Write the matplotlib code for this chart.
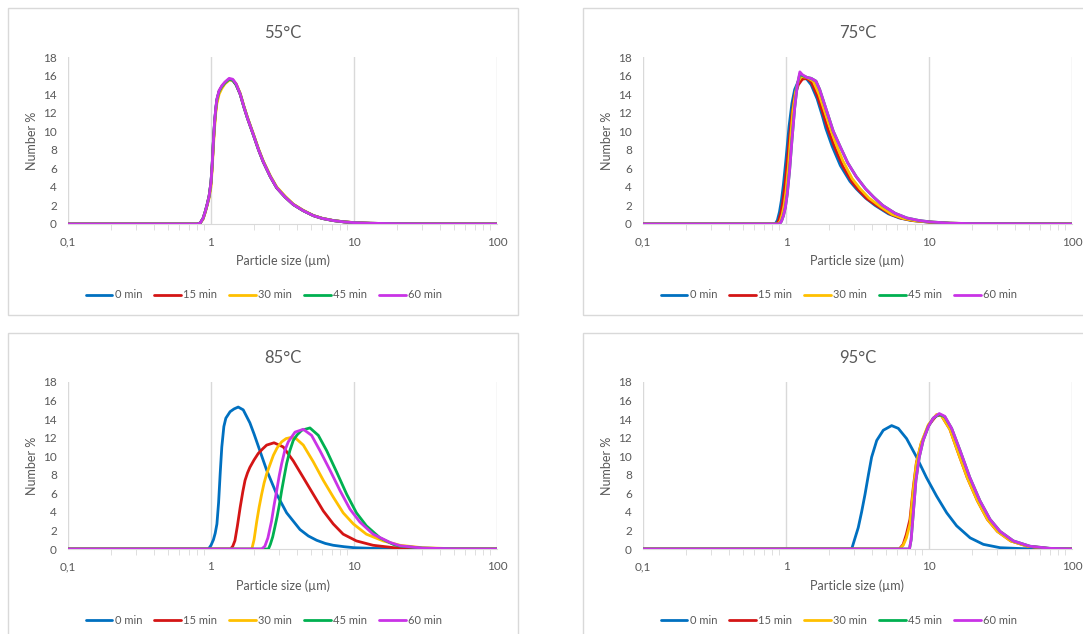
import matplotlib
matplotlib.use("Agg")
import matplotlib.pyplot as plt
from matplotlib.patches import Rectangle

plt.rcParams["font.family"] = ["Lato", "DejaVu Sans"]

SERIES = ["0 min", "15 min", "30 min", "45 min", "60 min"]
COLORS = ["#0070C0", "#D41515", "#FFC000", "#00B050", "#C933E6"]
TITLES = ["55°C", "75°C", "85°C", "95°C"]
X_TICKS = [0.1, 1, 10, 100]
X_TICK_LABELS = ["0,1", "1", "10", "100"]
Y_TICKS = [0, 2, 4, 6, 8, 10, 12, 14, 16, 18]

# 55 °C - all five runs practically on top of each other
x55 = [0.1, 0.8, 0.84, 0.88, 0.91, 0.94, 0.97, 1.0, 1.02, 1.04, 1.06, 1.08, 1.1,
       1.14, 1.19, 1.25, 1.34, 1.42, 1.5, 1.6, 1.7, 1.8, 1.98, 2.15, 2.32, 2.6,
       2.88, 3.3, 3.76, 4.4, 5.2, 6.0, 7.16, 8.5, 9.9, 13, 20, 30, 100]
y55_0 = [0, 0, 0.1, 0.6, 1.3, 2.1, 3.0, 4.5, 6.5, 9.0, 11.0, 12.4, 13.4,
         14.3, 14.8, 15.2, 15.6, 15.5, 15.0, 14.0, 12.6, 11.4, 9.6, 8.0, 6.7, 5.1,
         3.9, 2.9, 2.1, 1.45, 0.9, 0.6, 0.37, 0.23, 0.15, 0.08, 0.03, 0.01, 0]
y55_15 = [0, 0, 0.1, 0.6, 1.3, 2.1, 3.0, 4.4, 6.4, 8.9, 10.9, 12.3, 13.3,
          14.3, 14.8, 15.2, 15.6, 15.5, 15.0, 14.0, 12.6, 11.4, 9.6, 8.0, 6.7, 5.1,
          3.9, 2.9, 2.1, 1.45, 0.9, 0.6, 0.37, 0.23, 0.15, 0.08, 0.03, 0.01, 0]
y55_30 = [0, 0, 0.1, 0.5, 1.2, 2.0, 2.8, 4.0, 6.0, 8.4, 10.4, 12.0, 13.0,
          14.0, 14.6, 15.1, 15.5, 15.5, 15.1, 14.1, 12.7, 11.5, 9.7, 8.1, 6.8, 5.2,
          4.0, 3.0, 2.15, 1.5, 0.92, 0.62, 0.38, 0.24, 0.16, 0.08, 0.03, 0.01, 0]
y55_45 = [0, 0, 0.1, 0.6, 1.3, 2.1, 3.0, 4.5, 6.5, 9.0, 11.0, 12.4, 13.4,
          14.3, 14.8, 15.2, 15.6, 15.5, 15.0, 14.0, 12.6, 11.4, 9.6, 8.0, 6.7, 5.1,
          3.9, 2.9, 2.1, 1.45, 0.9, 0.6, 0.37, 0.23, 0.15, 0.08, 0.03, 0.01, 0]
y55_60 = [0, 0, 0.1, 0.6, 1.3, 2.1, 3.0, 4.5, 6.5, 9.0, 11.1, 12.5, 13.5,
          14.4, 14.9, 15.3, 15.7, 15.6, 15.1, 14.0, 12.6, 11.4, 9.6, 8.0, 6.7, 5.1,
          3.9, 2.9, 2.1, 1.45, 0.9, 0.6, 0.37, 0.23, 0.15, 0.08, 0.03, 0.01, 0]

# 75 °C
x75_0 = [0.1, 0.84, 0.87, 0.9, 0.93, 0.96, 1.0, 1.05, 1.1, 1.15, 1.22, 1.3, 1.4,
         1.5, 1.65, 1.8, 1.9, 2.1, 2.4, 2.8, 3.1, 3.6, 4.2, 5.2, 6.2, 7.5, 10, 14,
         20, 100]
y75_0 = [0, 0, 0.4, 1.3, 2.6, 4.3, 7.0, 10.5, 13.0, 14.5, 15.4, 15.8, 15.6,
         15.0, 13.5, 11.6, 10.3, 8.4, 6.3, 4.6, 3.8, 2.8, 2.0, 1.1, 0.65, 0.38, 0.2,
         0.08, 0.04, 0]
x75_15 = [0.1, 0.86, 0.89, 0.92, 0.95, 0.98, 1.0, 1.05, 1.1, 1.15, 1.22, 1.3, 1.4,
          1.5, 1.65, 1.8, 2.0, 2.2, 2.5, 2.9, 3.2, 3.7, 4.4, 5.4, 6.4, 7.7, 10, 14,
          20, 100]
y75_15 = [0, 0, 0.4, 1.2, 2.4, 4.0, 5.3, 8.8, 11.8, 13.8, 15.0, 15.6, 15.7,
          15.3, 13.9, 12.1, 9.9, 8.2, 6.2, 4.5, 3.7, 2.7, 1.9, 1.05, 0.62, 0.37, 0.2,
          0.08, 0.04, 0]
x75_30 = [0.1, 0.88, 0.91, 0.94, 0.97, 1.0, 1.04, 1.08, 1.12, 1.17, 1.22, 1.28,
          1.4, 1.55, 1.7, 1.85, 2.0, 2.2, 2.5, 2.9, 3.3, 3.8, 4.6, 5.5, 6.6, 8.0,
          10, 14, 20, 100]
y75_30 = [0, 0, 0.3, 1.0, 2.0, 3.5, 6.2, 9.5, 12.3, 14.3, 15.4, 15.9,
          15.8, 15.4, 14.0, 12.3, 10.7, 8.9, 6.8, 4.9, 3.8, 2.8, 1.85, 1.05, 0.6, 0.35,
          0.22, 0.09, 0.04, 0]
x75_45 = [0.1, 0.9, 0.93, 0.96, 0.99, 1.02, 1.06, 1.1, 1.15, 1.2, 1.25, 1.3, 1.4,
          1.5, 1.62, 1.72, 1.85, 2.0, 2.14, 2.4, 2.7, 3.1, 3.6, 4.1, 4.75, 5.8, 7.0,
          8.5, 10, 14, 20, 100]
y75_45 = [0, 0, 0.3, 0.9, 1.8, 3.2, 5.8, 9.0, 12.5, 15.0, 16.2, 16.0, 15.8,
          15.7, 15.4, 14.5, 13.0, 11.4, 10.0, 8.3, 6.6, 5.1, 3.8, 2.9, 2.0, 1.15, 0.65,
          0.38, 0.24, 0.09, 0.04, 0]
x75_60 = [0.1, 0.9, 0.93, 0.96, 0.99, 1.02, 1.06, 1.1, 1.15, 1.2, 1.25, 1.3, 1.4,
          1.5, 1.62, 1.72, 1.85, 2.0, 2.14, 2.4, 2.7, 3.1, 3.6, 4.1, 4.75, 5.8, 7.0,
          8.5, 10, 14, 20, 100]
y75_60 = [0, 0, 0.3, 0.9, 1.8, 3.2, 5.8, 9.0, 12.5, 15.0, 16.4, 16.1, 15.8,
          15.7, 15.4, 14.5, 13.0, 11.4, 10.0, 8.3, 6.6, 5.1, 3.8, 2.9, 2.0, 1.15, 0.65,
          0.38, 0.24, 0.09, 0.04, 0]

# 85 °C
x85_0 = [0.1, 0.96, 1.0, 1.04, 1.07, 1.1, 1.13, 1.16, 1.19, 1.23, 1.27, 1.36,
         1.45, 1.55, 1.68, 1.87, 2.0, 2.14, 2.45, 2.88, 3.38, 4.19, 4.8, 5.48,
         6.3, 7.16, 8.5, 10, 14, 20, 100]
y85_0 = [0, 0, 0.4, 1.0, 1.7, 2.7, 5.0, 8.2, 11.0, 13.2, 14.1, 14.8,
         15.1, 15.3, 15.0, 13.6, 12.4, 11.1, 8.5, 5.9, 3.9, 2.1, 1.4, 0.94,
         0.6, 0.4, 0.25, 0.14, 0.06, 0.03, 0]
x85_15 = [0.1, 1.37, 1.42, 1.47, 1.53, 1.6, 1.67, 1.73, 1.8, 1.87, 2.0, 2.14,
          2.3, 2.45, 2.76, 3.2, 3.76, 4.42, 5.19, 6.1, 7.16, 8.4, 10.4, 13.6,
          18.8, 25, 40, 100]
y85_15 = [0, 0, 0.3, 0.9, 2.5, 4.5, 6.2, 7.4, 8.2, 8.8, 9.6, 10.3,
          10.8, 11.2, 11.45, 11.0, 9.5, 7.7, 5.9, 4.1, 2.7, 1.6, 0.87, 0.4,
          0.15, 0.06, 0.02, 0]
x85_30 = [0.1, 1.93, 2.0, 2.09, 2.17, 2.26, 2.35, 2.45, 2.6, 2.73, 2.9, 3.12,
          3.35, 3.57, 3.87, 4.42, 5.19, 6.1, 7.16, 8.4, 9.9, 12.2, 16, 21, 30,
          50, 100]
y85_30 = [0, 0, 1.0, 3.0, 4.5, 5.9, 7.1, 8.1, 9.2, 10.1, 10.9, 11.55,
          11.9, 12.0, 12.0, 11.2, 9.4, 7.4, 5.6, 3.9, 2.7, 1.6, 0.87, 0.4, 0.14,
          0.03, 0]
x85_45 = [0.1, 2.52, 2.6, 2.7, 2.8, 2.9, 3.0, 3.12, 3.25, 3.38, 3.56, 3.76,
          4.0, 4.31, 4.92, 5.63, 6.44, 7.56, 8.89, 10.4, 12.2, 15.2, 18.8, 21,
          30, 50, 100]
y85_45 = [0, 0, 0.5, 1.3, 2.4, 3.5, 4.7, 6.3, 7.8, 9.2, 10.6, 11.7,
          12.3, 12.8, 13.05, 12.25, 10.6, 8.3, 5.9, 3.9, 2.5, 1.2, 0.5, 0.3,
          0.1, 0.02, 0]
x85_60 = [0.1, 2.26, 2.38, 2.5, 2.65, 2.76, 2.88, 3.0, 3.12, 3.28, 3.47, 3.87,
          4.42, 5.05, 5.78, 6.79, 7.98, 9.37, 11.0, 13.6, 17.9, 21, 30, 50, 100]
y85_60 = [0, 0, 0.3, 1.2, 3.0, 4.7, 6.3, 7.9, 9.2, 10.6, 11.55, 12.6,
          12.9, 12.25, 10.6, 8.5, 6.3, 4.3, 2.9, 1.6, 0.7, 0.35, 0.1, 0.02, 0]

# 95 °C
x95_0 = [0.1, 2.88, 3.0, 3.2, 3.38, 3.57, 3.77, 3.97, 4.31, 4.79, 5.48, 6.1,
         6.97, 8.19, 9.6, 11.3, 13.3, 15.6, 19.4, 24, 31.4, 45, 70, 100]
y95_0 = [0, 0, 0.9, 2.3, 4.0, 5.9, 8.0, 9.9, 11.7, 12.8, 13.3, 13.0,
         11.9, 9.9, 7.7, 5.7, 3.9, 2.5, 1.2, 0.5, 0.14, 0.04, 0.01, 0]
x95_15 = [0.1, 6.2, 6.6, 6.95, 7.36, 7.76, 8.16, 8.8, 9.9, 11.3, 12.2, 14.0,
          15.8, 18.5, 21.8, 25.6, 30.1, 37.3, 48.8, 67, 100]
y95_15 = [0, 0, 0.5, 1.6, 3.2, 6.6, 9.3, 11.3, 13.3, 14.4, 14.4, 12.9,
          10.6, 7.7, 5.2, 3.2, 1.9, 0.87, 0.3, 0.07, 0.01]
x95_30 = [0.1, 6.24, 6.6, 6.95, 7.36, 7.76, 8.16, 8.8, 9.9, 11.3, 12.2, 14.0,
          15.8, 18.5, 21.8, 25.6, 30.1, 37.3, 48.8, 67, 100]
y95_30 = [0, 0, 0.4, 1.2, 2.7, 6.3, 9.2, 11.4, 13.4, 14.5, 14.4, 12.9,
          10.6, 7.7, 5.2, 3.2, 1.9, 0.87, 0.3, 0.07, 0.01]
x95_45 = [0.1, 7.3, 7.5, 7.76, 8.1, 8.55, 9.1, 9.9, 10.7, 11.8, 12.9, 14.4,
          16.5, 19.3, 22.7, 26.7, 31.4, 38.9, 50.8, 70, 100]
y95_45 = [0, 0, 1.0, 3.8, 7.4, 9.9, 11.7, 13.2, 14.1, 14.5, 14.25, 13.0,
          10.6, 7.7, 5.2, 3.2, 1.9, 0.87, 0.3, 0.07, 0.01]
x95_60 = [0.1, 7.3, 7.5, 7.76, 8.1, 8.55, 9.1, 9.9, 10.7, 11.8, 12.9, 14.4,
          16.5, 19.3, 22.7, 26.7, 31.4, 38.9, 50.8, 70, 100]
y95_60 = [0, 0, 1.0, 3.8, 7.4, 9.9, 11.7, 13.2, 14.1, 14.6, 14.3, 13.0,
          10.6, 7.7, 5.2, 3.2, 1.9, 0.87, 0.3, 0.07, 0.01]

PANELS = [
    [(x55, y55_0), (x55, y55_15), (x55, y55_30), (x55, y55_45), (x55, y55_60)],
    [(x75_0, y75_0), (x75_15, y75_15), (x75_30, y75_30), (x75_45, y75_45), (x75_60, y75_60)],
    [(x85_0, y85_0), (x85_15, y85_15), (x85_30, y85_30), (x85_45, y85_45), (x85_60, y85_60)],
    [(x95_0, y95_0), (x95_15, y95_15), (x95_30, y95_30), (x95_45, y95_45), (x95_60, y95_60)],
]

W, H = 1083, 634
fig = plt.figure(figsize=(W / 100, H / 100), dpi=100)

# pixel layout of each chart area: (frame left, frame top, axes left, axes top)
frames = [(8, 8, 68, 57), (583, 8, 643, 57), (8, 333, 68, 382), (583, 333, 643, 382)]
ax_w, ax_h = 429, 167
text_col = "#595959"
grid_col = "#D9D9D9"

for k, (fx, fy, axl, axt) in enumerate(frames):
    fig.patches.append(Rectangle((fx / W, 1 - (fy + 307) / H), 510 / W, 307 / H,
                                 transform=fig.transFigure, fill=False,
                                 edgecolor=grid_col, lw=1.0))
    ax = fig.add_axes([axl / W, 1 - (axt + ax_h) / H, ax_w / W, ax_h / H])
    for (xs, ys), name, c in zip(PANELS[k], SERIES, COLORS):
        ax.plot(xs, ys, color=c, lw=2.0, label=name,
                solid_joinstyle="round", solid_capstyle="round")
    ax.set_xscale("log")
    ax.set_xlim(0.1, 100)
    ax.set_ylim(0, 18)
    ax.set_xticks(X_TICKS)
    ax.set_xticklabels(X_TICK_LABELS)
    ax.set_yticks(Y_TICKS)
    ax.grid(axis="x", which="major", color=grid_col, lw=1.0)
    for s in ["top", "right", "left"]:
        ax.spines[s].set_visible(False)
    ax.spines["bottom"].set_color(grid_col)
    ax.spines["bottom"].set_zorder(0)
    ax.tick_params(axis="x", which="major", length=0, labelsize=8.5,
                   labelcolor=text_col, pad=9)
    ax.tick_params(axis="x", which="minor", length=4, color=grid_col)
    ax.tick_params(axis="y", length=0, labelsize=8.5, labelcolor=text_col, pad=8)
    ax.set_xlabel("Particle size (µm)", fontsize=9, color=text_col, labelpad=5)
    ax.set_ylabel("Number %", fontsize=9, color=text_col, labelpad=4)
    ax.set_title(TITLES[k], fontsize=12, color=text_col, pad=14)
    ax.legend(loc="center", bbox_to_anchor=((fx + 256) / W, 1 - (fy + 287) / H),
              bbox_transform=fig.transFigure, ncol=5, frameon=False,
              fontsize=8, labelcolor=text_col, handlelength=2.4,
              handletextpad=0.2, columnspacing=1.1)

fig.savefig("out.png", dpi=100)
